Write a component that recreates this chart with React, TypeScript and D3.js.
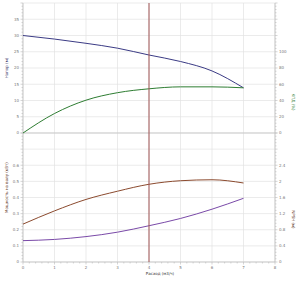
import React from "react";
import * as d3 from "d3";

const flow = [0, 1, 2, 3, 4, 5, 6, 7];
const head = [30.0, 28.9, 27.6, 26.1, 24.0, 22.0, 19.1, 13.9];
const efficiency = [0, 24, 40.4, 49.6, 54.4, 56.8, 56.8, 55.6];
const power = [0.235, 0.317, 0.388, 0.439, 0.482, 0.504, 0.51, 0.49];
const npsh = [0.53, 0.56, 0.63, 0.74, 0.9, 1.08, 1.31, 1.58];
const dutyFlow = 4;

const xTicks = [0, 1, 2, 3, 4, 5, 6, 7, 8];
const headTicks = [0, 5, 10, 15, 20, 25, 30, 35];
const effTicks = [0, 20, 40, 60, 80, 100];
const powerTicks = [0, 0.1, 0.2, 0.3, 0.4, 0.5, 0.6];
const npshTicks = [0, 0.4, 0.8, 1.2, 1.6, 2, 2.4];

const L = 23, R = 275, T = 3, MID = 133, B = 262;

export default function App() {
  const x = d3.scaleLinear().domain([0, 8]).range([L, R]);
  const yHead = d3.scaleLinear().domain([0, 40]).range([MID, T]);
  const yEff = d3.scaleLinear().domain([0, 160]).range([MID, T]);
  const yPow = d3.scaleLinear().domain([0, 0.8]).range([B, MID]);
  const yNpsh = d3.scaleLinear().domain([0, 3.2]).range([B, MID]);

  const line = (ys: number[], sy: d3.ScaleLinear<number, number>) =>
    d3.line<number>().x((_, i) => x(flow[i])).y((v) => sy(v)).curve(d3.curveMonotoneX)(ys) || "";

  const grid = "#e2e2e2";
  const axis = "#bbbbbb";
  const txt = "#777";
  const fs = 4;

  const minorX = d3.range(0, 8.001, 0.2);
  const minorHead = d3.range(0, 40.001, 1);
  const minorPow = d3.range(0, 0.8001, 0.02);

  return (
    <svg width={300} height={281} style={{ position: "absolute", left: 0, top: 0, background: "#fff" }} fontFamily="DejaVu Sans">
      {/* grid */}
      {xTicks.map((t) => (
        <line key={"gx" + t} x1={x(t)} x2={x(t)} y1={T} y2={B} stroke={grid} strokeWidth={0.7} />
      ))}
      {[...headTicks, 40].map((t) => (
        <line key={"gh" + t} x1={L} x2={R} y1={yHead(t)} y2={yHead(t)} stroke={grid} strokeWidth={0.7} />
      ))}
      {[...powerTicks, 0.7].map((t) => (
        <line key={"gp" + t} x1={L} x2={R} y1={yPow(t)} y2={yPow(t)} stroke={grid} strokeWidth={0.7} />
      ))}
      {/* axes */}
      <line x1={L} x2={L} y1={T} y2={B} stroke={axis} strokeWidth={0.7} />
      <line x1={R} x2={R} y1={T} y2={B} stroke={axis} strokeWidth={0.7} />
      <line x1={L} x2={R} y1={B} y2={B} stroke={axis} strokeWidth={0.7} />
      <line x1={L} x2={R} y1={MID} y2={MID} stroke={axis} strokeWidth={0.7} />
      {minorX.map((t, i) => (
        <line key={"mx" + i} x1={x(t)} x2={x(t)} y1={B} y2={B + (i % 5 === 0 ? 2.5 : 1.5)} stroke={axis} strokeWidth={0.6} />
      ))}
      {minorHead.map((t, i) => (
        <g key={"mh" + i}>
          <line x1={L - (i % 5 === 0 ? 2.5 : 1.5)} x2={L} y1={yHead(t)} y2={yHead(t)} stroke={axis} strokeWidth={0.6} />
          <line x1={R} x2={R + (i % 5 === 0 ? 2.5 : 1.5)} y1={yHead(t)} y2={yHead(t)} stroke={axis} strokeWidth={0.6} />
        </g>
      ))}
      {minorPow.map((t, i) => (
        <g key={"mp" + i}>
          <line x1={L - (i % 5 === 0 ? 2.5 : 1.5)} x2={L} y1={yPow(t)} y2={yPow(t)} stroke={axis} strokeWidth={0.6} />
          <line x1={R} x2={R + (i % 5 === 0 ? 2.5 : 1.5)} y1={yPow(t)} y2={yPow(t)} stroke={axis} strokeWidth={0.6} />
        </g>
      ))}
      {/* tick labels */}
      {xTicks.map((t) => (
        <text key={"tx" + t} x={x(t)} y={B + 7} fontSize={fs} fill={txt} textAnchor="middle">{t}</text>
      ))}
      {headTicks.map((t) => (
        <text key={"th" + t} x={L - 4} y={yHead(t) + 1.4} fontSize={fs} fill={txt} textAnchor="end">{t}</text>
      ))}
      {effTicks.map((t) => (
        <text key={"te" + t} x={R + 4} y={yEff(t) + 1.4} fontSize={fs} fill={txt} textAnchor="start">{t}</text>
      ))}
      {powerTicks.map((t) => (
        <text key={"tp" + t} x={L - 4} y={yPow(t) + 1.4} fontSize={fs} fill={txt} textAnchor="end">{t}</text>
      ))}
      {npshTicks.map((t) => (
        <text key={"tn" + t} x={R + 4} y={yNpsh(t) + 1.4} fontSize={fs} fill={txt} textAnchor="start">{t}</text>
      ))}
      {/* curves */}
      <path d={line(head, yHead)} fill="none" stroke="#3b3b85" strokeWidth={1} />
      <path d={line(efficiency, yEff)} fill="none" stroke="#2e7d32" strokeWidth={1} />
      <path d={line(power, yPow)} fill="none" stroke="#8b4a2e" strokeWidth={1} />
      <path d={line(npsh, yNpsh)} fill="none" stroke="#7a4aa8" strokeWidth={1} />
      {/* duty line */}
      <line x1={x(dutyFlow)} x2={x(dutyFlow)} y1={T} y2={B} stroke="#a05555" strokeWidth={1} />
      {/* axis titles */}
      <text transform={`translate(8,${(T + MID) / 2}) rotate(-90)`} fontSize={fs} fill="#333366" textAnchor="middle">Напор (м)</text>
      <text transform={`translate(292,${(T + MID) / 2 + 34}) rotate(90)`} fontSize={fs} fill="#2e7d32" textAnchor="middle">КПД (%)</text>
      <text transform={`translate(8,${(MID + B) / 2 - 10}) rotate(-90)`} fontSize={fs} fill="#5a3020" textAnchor="middle">Мощность на валу (кВт)</text>
      <text transform={`translate(292,${(MID + B) / 2 + 22}) rotate(90)`} fontSize={fs} fill="#5a3020" textAnchor="middle">NPSH (м)</text>
      <text x={160} y={B + 13} fontSize={fs} fill="#333" textAnchor="middle">Расход (м3/ч)</text>
    </svg>
  );
}
